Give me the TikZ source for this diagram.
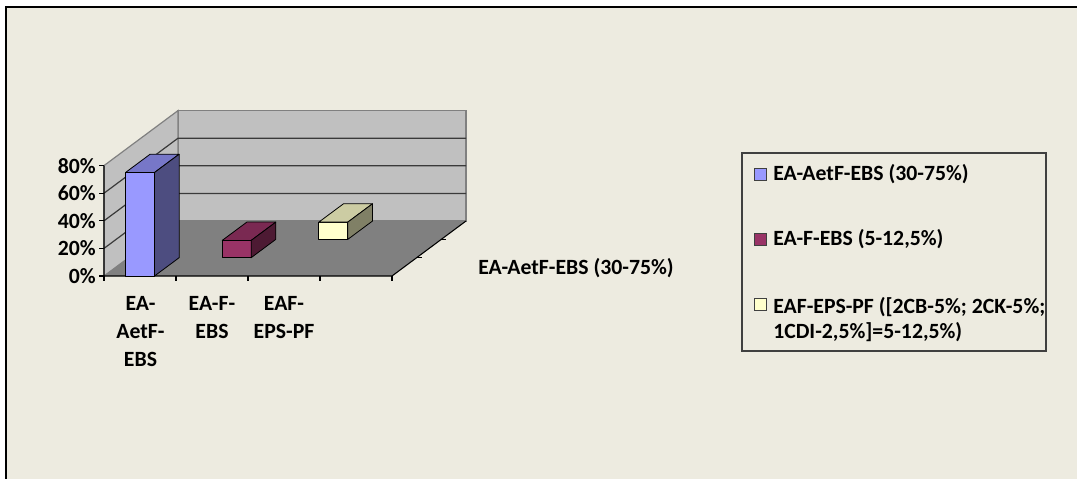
\documentclass[tikz,border=0pt]{standalone}
\usepackage{fontspec}
\setmainfont{Carlito}
\usepackage{tikz}
\usetikzlibrary{calc}
\definecolor{paper}{HTML}{EDEBE0}
\definecolor{wall}{HTML}{C0C0C0}
\definecolor{floorc}{HTML}{808080}
\definecolor{grid}{HTML}{3A3A3A}
\definecolor{blueF}{HTML}{9999FF}
\definecolor{blueT}{HTML}{7777C8}
\definecolor{blueS}{HTML}{4D4D80}
\definecolor{wineF}{HTML}{993366}
\definecolor{wineT}{HTML}{7A2952}
\definecolor{wineS}{HTML}{4D1A33}
\definecolor{creamF}{HTML}{FFFFCC}
\definecolor{creamT}{HTML}{CCCCA3}
\definecolor{creamS}{HTML}{808066}
\tikzset{
  px/.style={x=0.75pt, y=-0.75pt},
  face/.style={draw=black, line width=0.6pt, line join=round},
  gline/.style={draw=grid, line width=0.9pt},
  edge/.style={draw=gray, line width=0.9pt},
  axis/.style={draw=black, line width=0.8pt},
  lab/.style={font=\bfseries\fontsize{16.3}{21}\selectfont, inner sep=0pt},
  key/.style={draw=black!75, line width=0.6pt, minimum size=9pt, inner sep=0pt},
  legbox/.style={draw=black!75, line width=0.8pt},
}

\begin{document}
\begin{tikzpicture}[px]
  \useasboundingbox (0,0) rectangle (1077,479);
  \fill[paper] (6,7) rectangle (1077,479);
  \draw[black, line width=1.6pt] (1077,7) -- (6,7) -- (6,479);
  % walls and floor
  \filldraw[fill=wall, edge] (178,221) rectangle (466,110.6);
  \filldraw[fill=wall, edge] (104,276) -- (104,165.6) -- (178,110.6) -- (178,221) -- cycle;
  \foreach \k in {1,2,3}
    \draw[gline] (104,{276-27.6*\k}) -- (178,{221-27.6*\k}) -- (466,{221-27.6*\k});
  \fill[floorc] (104,276) -- (392,276) -- (466,221) -- (178,221) -- cycle;
  % axes
  \draw[axis] (104,165.6) -- (104,276) -- (392,276) -- (466,221);
  \foreach \k/\t in {0/0,1/20,2/40,3/60,4/80} {
    \draw[axis] (99,{276-27.6*\k}) -- (104,{276-27.6*\k});
    \node[lab, anchor=east] (v\k) at (96,{276-27.6*\k}) {\t\%};
  }
  \foreach \k in {0,...,4}
    \draw[axis] ({104+72*\k},276) -- ({104+72*\k},281);
  \foreach \k in {1,2}
    \draw[axis] ({392+74*\k/3},{276-55*\k/3}) -- ++(5,0);
  % bars, back to front
  \foreach \i/\v/\col in {2/12.5/cream, 1/12.5/wine, 0/75/blue} {
    \path ({125.5+72*\i+24.67*\i},{276-18.33*\i}) coordinate (p0)
      ++(29,0) coordinate (p1) ++(0,{-1.38*\v}) coordinate (p2) ++(-29,0) coordinate (p3);
    \filldraw[face, fill=\col F] (p0) rectangle (p2);
    \filldraw[face, fill=\col T] (p3) -- (p2) -- ++(24.67,-18.33) -- ++(-29,0) -- cycle;
    \filldraw[face, fill=\col S] (p1) -- (p2) -- ++(24.67,-18.33) -- ++(0,{1.38*\v}) -- cycle;
  }
  % category labels
  \node[lab, align=center, anchor=north] (c1) at (140.5,296) {EA-\\AetF-\\EBS};
  \node[lab, align=center, anchor=north] (c2) at (212,296) {EA-F-\\EBS};
  \node[lab, align=center, anchor=north] (c3) at (284,296) {EAF-\\EPS-PF};
  \node[lab, anchor=west] (dep) at (478,268) {EA-AetF-EBS (30-75\%)};
  % legend
  \draw[legbox] (742,153) rectangle (1046,351);
  \node[key, fill=blueF] (k1) at (760.5,174) {};
  \node[key, fill=wineF] (k2) at (760.5,239) {};
  \node[key, fill=creamF] (k3) at (760.5,304) {};
  \node[lab, anchor=west] (t1) at (773,174) {EA-AetF-EBS (30-75\%)};
  \node[lab, anchor=west] (t2) at (773,239) {EA-F-EBS (5-12,5\%)};
  \node[lab, anchor=north west, align=left, font=\bfseries\fontsize{16.3}{18.75}\selectfont]
    (t3) at (773,297) {EAF-EPS-PF ([2CB-5\%; 2CK-5\%;\\1CDI-2,5\%]=5-12,5\%)};
\end{tikzpicture}
\end{document}
